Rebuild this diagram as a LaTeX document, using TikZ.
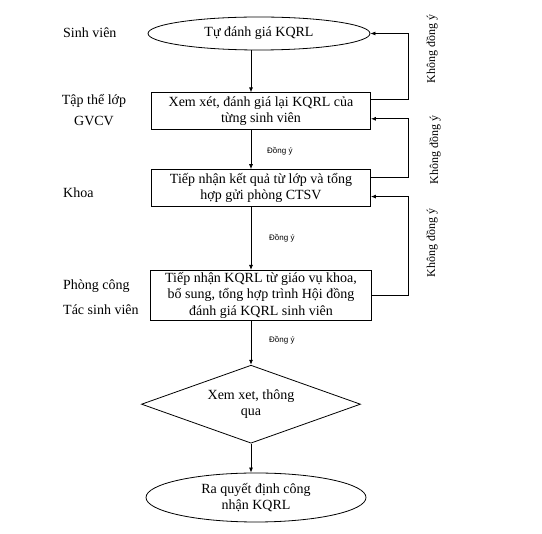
\documentclass[tikz,border=0pt]{standalone}
\usepackage{fontspec}
\setmainfont{Liberation Serif}
\setsansfont{Liberation Sans}
\usetikzlibrary{shapes.geometric, arrows.meta, positioning, calc}

\begin{document}
\begin{tikzpicture}[
      x=1pt, y=-1pt,
      font=\fontsize{14}{16.5}\selectfont,
      >=Latex,
      terminal/.style={
        draw=black,
        ellipse,
        minimum width=222pt,
        minimum height=33pt,
        inner sep=0pt,
        align=center,
        line width=0.8pt
      },
      stepbox/.style={
        draw=black,
        rectangle,
        minimum width=219pt,
        minimum height=37pt,
        inner sep=0pt,
        align=center,
        line width=0.8pt
      },
      decision/.style={
        draw=black,
        diamond,
        aspect=2.8,
        minimum width=219pt,
        minimum height=78pt,
        inner sep=0pt,
        align=center,
        line width=0.8pt
      },
      role/.style={anchor=west, inner sep=0pt},
      agree/.style={font=\sffamily\fontsize{8}{9}\selectfont, anchor=west, inner sep=0pt},
      disagree/.style={rotate=90, inner sep=0pt, font=\fontsize{12}{14}\selectfont},
      flow/.style={-{Latex[length=5pt,width=4pt]}, draw=black, line width=0.8pt}
    ]

    \useasboundingbox (0,0) rectangle (542,534);

    % Main column
    \node[terminal] (selfeval) at (259,33.5) {Tự đánh giá KQRL};
    \node[stepbox, below=42pt of selfeval, xshift=2pt] (classreview) {Xem xét, đánh giá lại KQRL của\\từng sinh viên};
    \node[stepbox, below=39pt of classreview] (faculty) {Tiếp nhận kết quả từ lớp và tổng\\hợp gửi phòng CTSV};
    \node[stepbox, minimum width=221pt, minimum height=50pt, below=63pt of faculty] (office) {Tiếp nhận KQRL từ giáo vụ khoa,\\bổ sung, tổng hợp trình Hội đồng\\đánh giá KQRL sinh viên};
    \node[decision, below=44pt of office, xshift=-10pt] (council) {Xem xet, thông\\qua};
    \node[terminal, minimum width=220pt, minimum height=49pt, below=29pt of council, xshift=5pt] (decide) {Ra quyết định công\\nhận KQRL};

    % Roles on the left
    \node[role] (rstudent) at (63,33) {Sinh viên};
    \node[inner sep=0pt] (rclass) at (94,101) {Tập thể lớp};
    \node[inner sep=0pt] (radvisor) at (94,121) {GVCV};
    \node[role] (rfaculty) at (63,193) {Khoa};
    \node[role] (roffice) at (63,286) {Phòng công};
    \node[role] (rwork) at (63,310) {Tác sinh viên};

    % Return rail on the right
    \coordinate (rail) at (408,0);

    % Forward flow
    \draw[flow] (selfeval.south -| council) -- (classreview.north -| council);
    \draw[flow] (classreview.south -| council) -- (faculty.north -| council);
    \draw[flow] (faculty.south -| council) -- (office.north -| council);
    \draw[flow] (office.south -| council) -- (council.north);
    \draw[flow] (council.south) -- (decide.north -| council);

    \node[agree] (ok1) at (267,151) {Đồng ý};
    \node[agree] (ok2) at (269,238) {Đồng ý};
    \node[agree] (ok3) at (269,340) {Đồng ý};

    % Disagreement loops
    \draw[flow] ([yshift=11.5pt]classreview.east) -- ([yshift=11.5pt]classreview.east -| rail) |- (selfeval.east);
    \draw[flow] ([yshift=10.5pt]faculty.east) -- ([yshift=10.5pt]faculty.east -| rail) |- ([yshift=-7.5pt]classreview.east);
    \draw[flow] (office.east) -- (office.east -| rail) |- ([yshift=-8.5pt]faculty.east);

    \node[disagree] (no1) at (432,49) {Không đồng ý};
    \node[disagree] (no2) at (435,150) {Không đồng ý};
    \node[disagree] (no3) at (432,243) {Không đồng ý};

  \end{tikzpicture}
\end{document}
